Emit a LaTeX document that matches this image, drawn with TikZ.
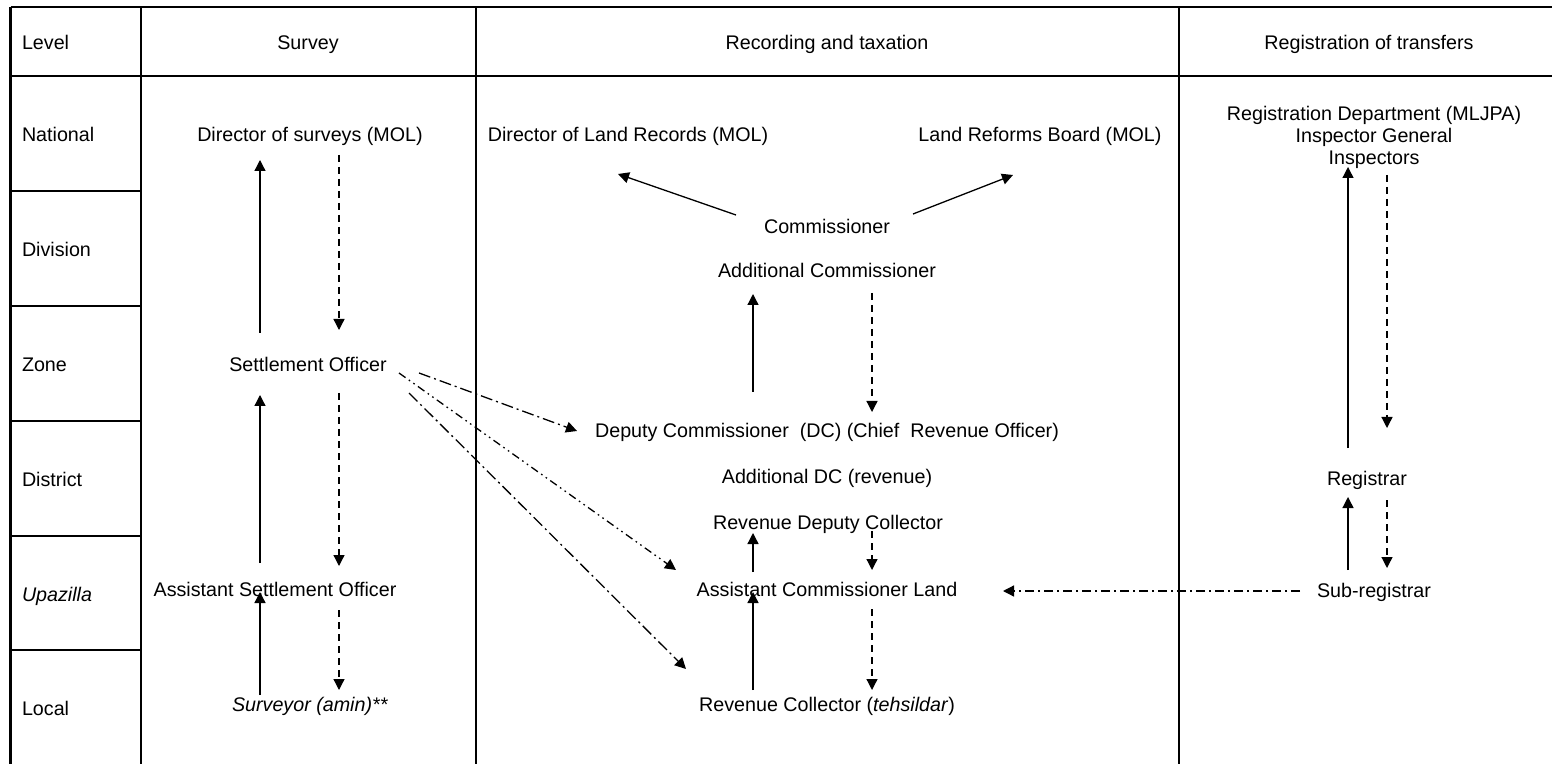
\documentclass[tikz,border=0pt]{standalone}
\usepackage{fontspec}
\setmainfont{Liberation Sans}
\usetikzlibrary{arrows.meta,calc}

\begin{document}
\begin{tikzpicture}[x=0.5pt,y=-0.5pt,
  lbl/.style={inner sep=0pt, outer sep=0pt, text height=7.2pt, text depth=0pt,
              font=\fontsize{9.85}{11}\selectfont},
  lvl/.style={lbl, anchor=west},
  thinrule/.style={line width=0.65pt},
  thickrule/.style={line width=1.1pt},
  up/.style={line width=0.65pt, -{Triangle[length=5.5pt,width=5.5pt]}},
  down/.style={up, dash pattern=on 3.5pt off 2.5pt},
  dashdot/.style={up, dash pattern=on 6pt off 2pt on 1pt off 2pt},
  shortdashdot/.style={up, dash pattern=on 4.5pt off 2pt on 1pt off 2pt},
  dashdotdot/.style={up, dash pattern=on 4pt off 2pt on 0.8pt off 2pt on 0.8pt off 2pt},
]
\useasboundingbox (0,0) rectangle (1552,764);

% table rules
\draw[thickrule] (10.5,7) -- (1552,7);
\draw[thinrule] (10.5,76) -- (1552,76);
\foreach \yy in {191,306,421,536,650}
  \draw[thinrule] (10.5,\yy) -- (141,\yy);
\foreach \xx in {10.5,141,476,1179}
  \draw[thickrule] (\xx,7) -- (\xx,764);

% column headings
\node[lvl] (hlevel) at (22,42) {Level};
\node[lbl] (hsurvey) at (308,42) {Survey};
\node[lbl] (hrec) at (827,42) {Recording and taxation};
\node[lbl] (hreg) at (1369,42) {Registration of transfers};

% administrative levels
\node[lvl] (lnat) at (22,134) {National};
\node[lvl] (ldiv) at (22,249) {Division};
\node[lvl] (lzone) at (22,364) {Zone};
\node[lvl] (ldist) at (22,479) {District};
\node[lvl] (lupa) at (22,594) {\textit{Upazilla}};
\node[lvl] (lloc) at (22,708) {Local};

% survey
\node[lbl] (dos) at (310,134) {Director of surveys (MOL)};
\node[lbl] (so) at (308,364) {Settlement Officer};
\node[lbl] (aso) at (275,589) {Assistant Settlement Officer};
\node[lbl] (sur) at (310,704) {\textit{Surveyor (amin)**}};

% recording and taxation
\node[lbl] (dlr) at (628,134) {Director of Land Records (MOL)};
\node[lbl] (lrb) at (1040,134) {Land Reforms Board (MOL)};
\node[lbl] (com) at (827,226) {Commissioner};
\node[lbl] (acom) at (827,270) {Additional Commissioner};
\node[lbl] (dc) at (827,430) {Deputy Commissioner~ (DC) (Chief~ Revenue Officer)};
\node[lbl] (adc) at (827,476) {Additional DC (revenue)};
\node[lbl] (rdc) at (828,522) {Revenue Deputy Collector};
\node[lbl] (acl) at (827,589) {Assistant Commissioner Land};
\node[lbl] (rc) at (827,704) {Revenue Collector (\textit{tehsildar})};

% registration of transfers
\node[inner sep=0pt, outer sep=0pt, align=center,
      font=\fontsize{9.85}{11}\selectfont] (rd) at (1374,137)
  {Registration Department (MLJPA)\\Inspector General\\Inspectors};
\node[lbl] (reg) at (1367,478) {Registrar};
\node[lbl] (sub) at (1374,590) {Sub-registrar};

% survey chain
\draw[up]   ($(so)+(-48,-31)$) -- ($(dos)+(-50,26)$);
\draw[down] ($(dos)+(29,21)$) -- ($(so)+(31,-34)$);
\draw[up]   ($(aso)+(-15,-26)$) -- ($(so)+(-48,31)$);
\draw[down] ($(so)+(31,29)$) -- ($(aso)+(64,-23)$);
\draw[up]   ($(sur)+(-50,-9)$) -- ($(aso)+(-15,3)$);
\draw[down] ($(aso)+(64,21)$) -- ($(sur)+(29,-14)$);

% recording chain
\draw[up]   ($(com)+(-91,-11)$) -- ($(dlr)+(-10,40)$);
\draw[up]   ($(com)+(86,-12)$) -- ($(lrb)+(-27,41)$);
\draw[up]   ($(dc)+(-74,-38)$) -- ($(acom)+(-74,24)$);
\draw[down] ($(acom)+(45,23)$) -- ($(dc)+(45,-18)$);
\draw[up]   ($(acl)+(-74,-17)$) -- ($(rdc)+(-75,11)$);
\draw[down] ($(rdc)+(44,9)$) -- ($(acl)+(45,-19)$);
\draw[up]   ($(rc)+(-74,-14)$) -- ($(acl)+(-74,3)$);
\draw[down] ($(acl)+(45,20)$) -- ($(rc)+(45,-14)$);

% settlement officer to revenue offices
\draw[dashdot]    ($(so)+(111,9)$) -- ($(dc)+(-250,1)$);
\draw[dashdotdot] ($(so)+(91,9)$) -- ($(acl)+(-151,-19)$);
\draw[dashdot]    ($(so)+(101,29)$) -- ($(rc)+(-141,-35)$);

% registration chain
\draw[up]   ($(reg)+(-19,-30)$) -- ($(rd)+(-26,30)$);
\draw[down] ($(rd)+(13,38)$) -- ($(reg)+(20,-50)$);
\draw[up]   ($(sub)+(-26,-20)$) -- ($(reg)+(-19,19)$);
\draw[down] ($(reg)+(20,22)$) -- ($(sub)+(13,-22)$);
\draw[shortdashdot] ($(sub)+(-74,1)$) -- ($(acl)+(176,2)$);
\end{tikzpicture}
\end{document}
